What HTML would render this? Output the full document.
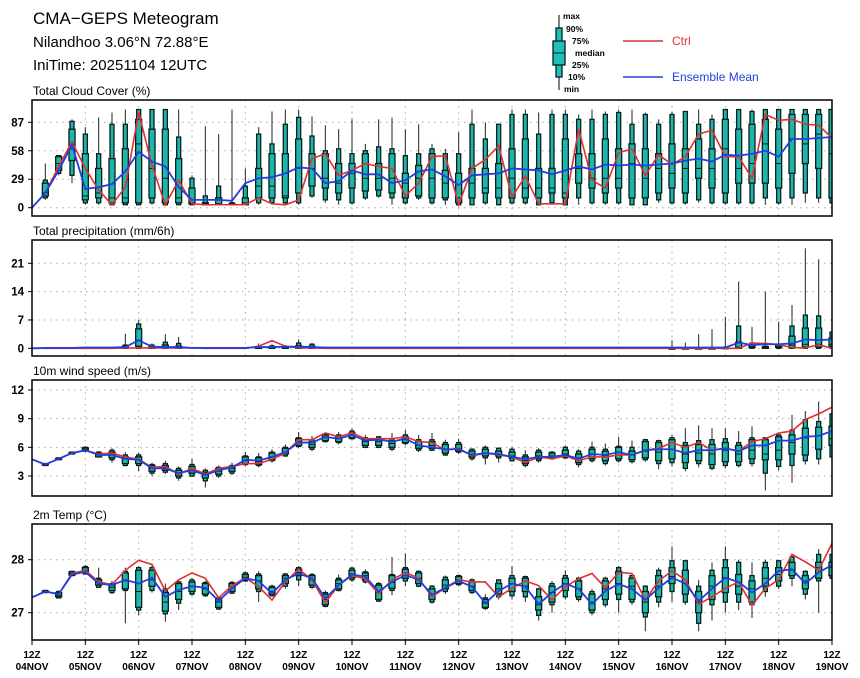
<!DOCTYPE html>
<html><head><meta charset="utf-8"><style>
body{margin:0;background:#fff;}
svg{display:block;font-family:"Liberation Sans",sans-serif;}
</style></head><body>
<svg id="chart" width="860" height="678" viewBox="0 0 860 678" xmlns="http://www.w3.org/2000/svg">
<rect width="860" height="678" fill="#fff"/>
<text x="33" y="24" font-size="17" fill="#000">CMA−GEPS Meteogram</text>
<text x="33" y="47" font-size="15" font-weight="500" fill="#000">Nilandhoo 3.06°N 72.88°E</text>
<text x="33" y="70" font-size="15" font-weight="500" fill="#000">IniTime: 20251104 12UTC</text>
<g>
<line x1="559" y1="15" x2="559" y2="90" stroke="#000"/>
<rect x="556" y="28" width="6" height="49" fill="#20c0b8" stroke="#06201a" stroke-width="1.3"/>
<rect x="553" y="41" width="12" height="24" fill="#20c0b8" stroke="#06201a" stroke-width="1.3"/>
<line x1="553" y1="53" x2="565" y2="53" stroke="#06201a"/>
<g font-size="8.5" font-weight="bold" fill="#000">
<text x="563" y="19">max</text><text x="566" y="32">90%</text><text x="572" y="44">75%</text>
<text x="575" y="56">median</text><text x="572" y="68">25%</text><text x="568" y="80">10%</text><text x="564" y="92">min</text>
</g></g>
<g>
<line x1="623" y1="41" x2="663" y2="41" stroke="#e03030" stroke-width="1.5"/>
<text x="672" y="45" font-size="12" fill="#e03030">Ctrl</text></g>
<g>
<line x1="623" y1="77" x2="663" y2="77" stroke="#2040e0" stroke-width="1.5"/>
<text x="672" y="81" font-size="12" fill="#2040e0">Ensemble Mean</text></g>
</svg>
<script>
const dayLabels=["04NOV","05NOV","06NOV","07NOV","08NOV","09NOV","10NOV","11NOV","12NOV","13NOV","14NOV","15NOV","16NOV","17NOV","18NOV","19NOV"];
const cloudTicks=[0,29,58,87];
const precipTicks=[0,7,14,21];
const windTicks=[3,6,9,12];
const tempTicks=[27,28];

const cloudCtrl=[0,15,42,67,40,18,3,21,97,43,3,28,4,3,3,3,3,10,4,3,8,50,55,33,38,45,42,40,12,25,52,53,3,40,49,63,11,32,4,4,4,80,28,20,56,60,33,54,44,52,75,79,52,52,30,95,89,90,85,84,71];
const cloudMean=[0,15,38,64,19,21,24,37,57,47,42,21,8,8,8,7,25,30,31,35,41,40,25,27,38,34,34,25,28,37,39,32,23,33,34,35,40,39,38,34,38,42,39,44,43,44,43,44,45,48,50,47,54,53,55,58,52,70,70,71,72];
const cloudBoxes=[null,
[8,10,12,15,25,28,45],[33,35,38,45,52,53,53],[25,33,48,60,80,88,90],[3,5,8,12,55,75,82],[3,5,10,15,40,55,92],
[3,3,5,10,50,85,97],[3,3,5,10,60,85,100],[3,3,5,65,90,100,100],[3,5,10,40,80,100,100],[3,3,5,30,80,100,100],
[3,3,5,10,50,72,100],[3,3,4,5,20,30,33],[3,3,3,4,5,12,83],[3,3,3,4,10,22,75],[3,3,3,3,4,5,100],
[3,3,3,5,10,22,40],[3,5,10,22,40,75,82],[3,5,10,22,55,65,98],[3,5,10,12,55,85,100],[3,5,15,40,70,92,100],
[10,12,22,40,55,73,93],[5,8,20,30,55,58,84],[3,8,15,25,45,60,80],[3,5,20,35,45,55,90],[8,10,17,30,55,58,65],
[10,12,18,30,45,62,90],[3,10,15,30,55,60,92],[3,5,10,25,35,53,80],[8,10,12,30,43,55,85],[3,5,10,30,55,60,65],
[3,8,10,25,38,55,60],[3,3,5,10,35,55,77],[3,3,10,25,40,85,100],[3,5,15,20,40,70,87],[3,3,10,20,45,85,85],
[3,5,10,30,60,95,100],[3,5,10,20,70,95,100],[3,3,10,20,40,75,97],[3,5,15,20,40,95,100],[3,3,10,15,70,95,100],
[3,10,25,40,55,90,95],[3,5,20,30,55,90,100],[3,5,15,30,70,95,98],[3,5,20,30,60,97,100],[3,3,10,45,65,85,100],
[3,3,10,30,60,95,97],[5,8,15,40,55,85,90],[3,5,20,35,65,95,98],[3,5,15,40,60,98,98],[5,8,30,40,70,85,100],
[3,5,20,40,60,90,95],[3,5,15,60,90,100,100],[3,5,25,40,80,100,100],[3,5,25,45,85,98,100],[3,10,25,65,90,100,100],
[3,5,20,45,80,100,100],[3,10,35,70,95,100,100],[5,15,45,65,95,100,100],[5,10,40,75,95,100,100],[3,5,10,55,100,100,100]];

const precipCtrl=[0,0,0,0,0,0,0,0.1,0.1,0.1,0.1,0.1,0.1,0,0,0,0,0.5,1.9,0.5,0.1,0.1,0,0,0,0,0,0,0,0,0,0,0,0,0,0,0,0,0,0,0,0,0,0,0,0,0,0,0,0,0,0,0,0,1.3,1.2,0.9,0.2,0.1,0.9,0];
const precipMean=[0,0.1,0.1,0.1,0.2,0.2,0.2,0.3,2.0,0.4,0.3,0.3,0.1,0.1,0.1,0.1,0.1,0.3,0.3,0.4,0.4,0.3,0.2,0.2,0.2,0.2,0.2,0.2,0.2,0.2,0.2,0.2,0.2,0.2,0.2,0.2,0.2,0.2,0.2,0.2,0.2,0.2,0.2,0.2,0.2,0.2,0.2,0.2,0.2,0.2,0.2,0.2,0.2,1.4,0.8,1.0,1.0,1.2,2.2,2.0,2.2];
const precipBoxes={7:[0,0,0,0.1,0.5,0.8,3.6],8:[0,0,0.5,2,4.8,6,7],9:[0,0,0,0.1,0.4,0.8,1.2],10:[0,0,0,0.2,0.8,1.5,3.5],11:[0,0,0,0.1,0.5,1.2,2.8],
17:[0,0,0,0,0.2,0.5,1.2],18:[0,0,0,0,0.3,0.6,1.0],19:[0,0,0,0,0.2,0.5,0.8],20:[0,0,0,0.1,0.6,1.3,2.2],21:[0,0,0,0.1,0.5,1.0,1.3],
48:[0,0,0,0,0,0,2],49:[0,0,0,0,0,0.1,1.4],50:[0,0,0,0,0,0.1,3.5],51:[0,0,0,0,0,0.2,4.7],52:[0,0,0,0,0.1,0.3,7.8],
53:[0,0,0,0.3,1.5,5.5,16.5],54:[0,0,0.2,0.5,1.0,1.3,5.3],55:[0,0,0,0.2,0.4,0.5,14],56:[0,0,0.2,0.5,0.8,1.0,6.6],57:[0,0,0.2,0.8,3,5.5,10.7],
58:[0,0,0.3,1,5,8.2,24.7],59:[0,0,0.3,1,5,8,22],60:[0,0,0.5,1,2.5,4,11.5]};

const windCtrl=[4.75,4.2,4.8,5.4,5.7,5.3,5.4,5.0,4.75,3.9,4.0,3.2,3.8,3.2,3.8,4.0,4.3,4.3,4.75,5.4,6.8,6.8,7.5,7.1,7.5,6.9,6.9,6.9,7.1,6.6,6.5,5.7,5.9,5.1,5.4,5.2,5.0,4.4,5.0,4.8,5.1,4.6,5.0,5.0,5.2,5.2,5.7,5.9,6.5,6.0,6.5,5.7,5.9,5.6,6.6,6.9,7.5,7.7,8.9,9.5,10.2];
const windMean=[4.75,4.2,4.8,5.4,5.7,5.2,5.2,4.8,4.7,3.8,3.8,3.3,3.6,3.1,3.6,3.9,4.7,4.6,5.0,5.5,6.5,6.5,7.1,6.9,7.3,6.7,6.8,6.6,6.9,6.2,6.0,5.8,5.8,5.2,5.4,5.3,5.0,4.75,5.0,5.0,5.2,4.8,5.3,5.2,5.5,5.2,5.7,5.8,5.8,5.4,5.7,5.7,5.9,5.6,6.2,6.2,6.7,6.7,7.1,7.2,7.7];
const windBoxes=[null,
[4.1,4.1,4.15,4.2,4.25,4.3,4.3],[4.7,4.7,4.75,4.8,4.85,4.9,4.9],[5.3,5.3,5.35,5.4,5.45,5.5,5.5],[5.5,5.6,5.65,5.8,5.95,6.0,6.1],[4.9,5.0,5.0,5.2,5.4,5.5,5.6],
[4.4,4.7,4.9,5.2,5.5,5.7,5.9],[4.0,4.1,4.3,4.8,5.0,5.2,5.5],[3.5,4.1,4.3,4.7,5.0,5.2,5.4],[3.0,3.3,3.5,3.8,4.1,4.2,4.4],[3.2,3.4,3.6,3.9,4.1,4.3,4.6],
[2.5,2.8,3.0,3.3,3.6,3.8,4.0],[2.9,3.0,3.3,3.7,4.0,4.2,4.8],[1.8,2.5,2.8,3.1,3.4,3.6,3.8],[2.8,3.0,3.2,3.5,3.8,3.9,4.1],[3.1,3.3,3.5,3.8,4.0,4.1,4.4],
[4.0,4.2,4.3,4.6,5.0,5.1,5.5],[3.9,4.1,4.2,4.5,4.9,5.0,5.4],[4.4,4.6,4.7,5.0,5.4,5.5,5.8],[5.0,5.1,5.3,5.5,5.9,6.0,6.3],[5.9,6.1,6.2,6.6,6.9,7.0,7.6],
[5.6,5.8,6.0,6.3,6.6,6.8,7.2],[6.5,6.6,6.7,7.0,7.3,7.4,7.5],[6.3,6.5,6.6,6.9,7.1,7.3,7.6],[6.8,6.9,7.0,7.3,7.5,7.7,8.0],[5.9,6.0,6.2,6.6,6.9,7.0,7.3],
[5.9,6.0,6.2,6.6,6.9,7.1,7.2],[5.6,5.8,6.0,6.4,6.7,6.9,7.5],[6.2,6.4,6.5,6.8,7.1,7.3,7.8],[5.5,5.7,5.9,6.2,6.6,6.8,7.3],[5.6,5.7,5.9,6.2,6.6,6.8,7.5],
[5.1,5.2,5.4,5.8,6.3,6.5,6.8],[5.3,5.5,5.6,5.9,6.3,6.5,6.9],[4.6,4.8,5.0,5.3,5.6,5.8,5.9],[4.2,4.9,5.1,5.4,5.8,6.0,6.2],[4.4,4.9,5.1,5.3,5.6,5.9,6.0],
[4.5,4.6,4.9,5.1,5.5,5.8,6.0],[3.9,4.1,4.3,4.6,5.0,5.2,5.7],[4.4,4.6,4.8,5.1,5.5,5.7,5.9],[4.7,4.8,4.9,5.1,5.4,5.5,5.6],[4.8,4.9,5.0,5.3,5.7,6.0,6.2],
[3.9,4.2,4.4,4.9,5.3,5.6,5.8],[4.4,4.6,4.8,5.3,5.8,6.0,6.6],[4.1,4.3,4.6,5.1,5.6,5.8,6.4],[4.4,4.6,4.8,5.5,6.0,6.1,7.1],[4.3,4.5,4.7,5.2,5.6,6.0,6.7],
[4.5,4.7,4.9,5.6,6.6,6.8,6.9],[3.7,4.3,4.6,5.5,6.5,6.7,6.8],[4.0,4.4,4.8,5.8,6.8,7.0,7.3],[3.5,3.8,4.4,5.3,6.2,6.5,8.0],[3.9,4.3,4.6,5.4,6.3,6.7,8.3],
[3.6,3.8,4.2,5.3,6.3,6.8,8.0],[3.8,4.1,4.5,5.7,6.5,6.9,8.0],[3.9,4.1,4.5,5.3,6.2,6.5,7.7],[4.0,4.3,4.8,5.7,6.8,7.0,8.2],[1.5,3.3,4.7,5.3,6.8,7.0,7.0],
[3.6,4.0,4.7,5.7,7.1,7.3,7.5],[2.3,4.1,5.3,6.5,7.3,7.8,9.4],[4.2,4.6,5.2,7.0,8.0,8.9,9.8],[4.2,4.8,5.8,7.2,8.1,8.7,10.8],[4.8,5.0,6.2,6.9,8.2,9.5,10.0]];

const tempCtrl=[27.29,27.40,27.35,27.74,27.80,27.58,27.53,27.80,27.99,27.91,27.41,27.62,27.75,27.65,27.28,27.51,27.66,27.49,27.24,27.58,27.82,27.62,27.19,27.52,27.70,27.64,27.36,27.62,27.76,27.65,27.30,27.47,27.62,27.58,27.58,27.30,27.46,27.60,27.51,27.24,27.49,27.64,27.74,27.47,27.76,27.74,27.24,27.60,27.79,27.62,27.16,27.30,27.46,27.58,27.14,27.46,27.62,28.10,27.96,27.80,28.31];
const tempMean=[27.29,27.40,27.35,27.72,27.77,27.55,27.52,27.62,27.55,27.66,27.30,27.43,27.50,27.47,27.22,27.46,27.65,27.60,27.36,27.62,27.74,27.65,27.27,27.52,27.72,27.68,27.40,27.58,27.71,27.62,27.34,27.47,27.60,27.49,27.18,27.41,27.55,27.49,27.16,27.38,27.55,27.45,27.16,27.41,27.54,27.45,27.24,27.47,27.66,27.55,27.22,27.45,27.66,27.58,27.38,27.55,27.79,27.82,27.55,27.76,27.90];
const tempBoxes=[null,
[27.37,27.38,27.39,27.40,27.41,27.42,27.43],[27.27,27.28,27.30,27.33,27.38,27.40,27.42],[27.69,27.70,27.71,27.74,27.77,27.78,27.79],[27.72,27.73,27.76,27.80,27.85,27.87,27.9],[27.47,27.48,27.52,27.57,27.62,27.65,27.85],
[27.35,27.38,27.42,27.48,27.52,27.55,27.6],[26.8,27.42,27.45,27.6,27.75,27.78,27.85],[26.95,27.05,27.1,27.4,27.8,27.85,27.88],[27.38,27.42,27.5,27.62,27.8,27.85,27.9],[26.83,26.98,27.03,27.2,27.38,27.45,27.55],
[27.05,27.18,27.25,27.4,27.55,27.58,27.62],[27.32,27.35,27.4,27.5,27.58,27.62,27.66],[27.3,27.32,27.35,27.45,27.55,27.57,27.6],[27.05,27.07,27.1,27.2,27.26,27.28,27.3],[27.35,27.37,27.4,27.48,27.55,27.57,27.6],
[27.58,27.6,27.62,27.67,27.72,27.75,27.78],[27.2,27.4,27.45,27.6,27.7,27.73,27.78],[27.3,27.32,27.35,27.4,27.48,27.5,27.53],[27.45,27.5,27.55,27.65,27.7,27.73,27.75],[27.5,27.62,27.7,27.76,27.82,27.85,27.88],
[27.45,27.48,27.52,27.62,27.7,27.72,27.75],[27.1,27.12,27.15,27.25,27.35,27.38,27.42],[27.4,27.42,27.45,27.55,27.62,27.65,27.72],[27.58,27.62,27.66,27.73,27.8,27.84,27.87],[27.55,27.58,27.62,27.7,27.75,27.77,27.82],
[27.2,27.22,27.25,27.38,27.52,27.55,27.58],[27.33,27.42,27.46,27.57,27.7,27.72,28.05],[27.5,27.6,27.65,27.75,27.82,27.85,28.12],[27.48,27.5,27.55,27.65,27.75,27.78,27.8],[27.17,27.2,27.25,27.35,27.45,27.5,27.52],
[27.35,27.4,27.45,27.52,27.62,27.67,27.7],[27.5,27.53,27.55,27.62,27.68,27.7,27.72],[27.35,27.38,27.42,27.5,27.58,27.62,27.65],[27.05,27.08,27.1,27.18,27.25,27.28,27.35],[27.25,27.3,27.35,27.45,27.55,27.62,27.63],
[27.25,27.32,27.4,27.55,27.65,27.7,27.88],[27.2,27.3,27.4,27.5,27.65,27.68,27.7],[26.85,26.95,27.05,27.15,27.3,27.45,27.47],[27.0,27.15,27.2,27.38,27.5,27.55,27.6],[27.25,27.3,27.42,27.55,27.65,27.7,27.8],
[27.2,27.25,27.3,27.45,27.6,27.65,27.68],[26.95,27.0,27.05,27.2,27.35,27.4,27.45],[27.1,27.15,27.25,27.45,27.6,27.65,27.68],[27.0,27.25,27.35,27.55,27.78,27.85,27.88],[27.15,27.2,27.25,27.5,27.65,27.7,27.75],
[26.65,26.92,27.0,27.2,27.4,27.5,27.52],[27.1,27.2,27.3,27.5,27.7,27.8,27.85],[27.2,27.4,27.55,27.68,27.85,27.98,28.25],[27.15,27.2,27.35,27.55,27.8,27.98,28.0],[26.65,26.8,27.0,27.2,27.4,27.5,27.62],
[26.85,27.15,27.25,27.5,27.7,27.8,27.95],[27.0,27.2,27.38,27.66,27.85,28.0,28.25],[27.05,27.2,27.35,27.5,27.72,27.95,28.0],[26.9,27.15,27.2,27.45,27.6,27.7,27.95],[27.3,27.4,27.5,27.65,27.85,27.95,28.0],
[27.45,27.5,27.6,27.72,27.85,27.98,28.0],[27.5,27.65,27.7,27.8,27.95,28.05,28.1],[27.25,27.35,27.45,27.6,27.7,27.78,27.8],[27.0,27.6,27.65,27.85,27.95,28.1,28.2],[27.6,27.65,27.7,27.85,27.95,28.1,28.3]];

const NS="http://www.w3.org/2000/svg";
const svg=document.getElementById("chart");
const X0=32,X1=832,NSTEP=60;
function xAt(i){return X0+(X1-X0)*i/NSTEP;}
function mk(tag,attrs,parent){const e=document.createElementNS(NS,tag);for(const k in attrs)e.setAttribute(k,attrs[k]);(parent||svg).appendChild(e);return e;}

function panel(name,title,top,bot,yv,ticks,boxes,ctrl,mean){
  const g=mk("g",{});
  
  
  const t=mk("text",{x:33,y:top-5,"font-size":12,fill:"#000"},g);t.textContent=title;
  
  
  for(let d=1;d<15;d++){const gl=mk("line",{x1:xAt(d*4),x2:xAt(d*4),y1:top,y2:bot,stroke:"#aaa","stroke-dasharray":"1.5,4.5"},g);
    
    }
  ticks.forEach(v=>{const y=yv(v);
    const gl=mk("line",{x1:X0,x2:X1,y1:y,y2:y,stroke:"#aaa","stroke-dasharray":"1.5,4.5"},g);
    
    
    mk("line",{x1:X0-4,x2:X0,y1:y,y2:y,stroke:"#000"},g);
    const tl=mk("text",{x:24,y:y+4,"font-size":11.5,"font-weight":"bold","text-anchor":"end",fill:"#000"},g);tl.textContent=v;
    
    });
  const clipId="clip-"+name;
  const cp=mk("clipPath",{id:clipId},g);mk("rect",{x:X0,y:top,width:X1-X0,height:bot-top},cp);
  const inner=mk("g",{"clip-path":"url(#"+clipId+")"},g);
  for(let i=1;i<=NSTEP;i++){const b=boxes[i];if(!b)continue;
    if(b[6]<=0)continue;
    const x=xAt(i);
    const bg=mk("g",{},inner);
    
    
    mk("line",{x1:x,x2:x,y1:yv(b[0]),y2:yv(b[6]),stroke:"#222","stroke-width":1},bg);
    const h1=Math.max(yv(b[1])-yv(b[5]),0.8);
    mk("rect",{x:x-2,y:yv(b[5]),width:4,height:h1,fill:"#1fb5ad",stroke:"#06201a","stroke-width":1.3},bg);
    const h2=Math.max(yv(b[2])-yv(b[4]),0.8);
    mk("rect",{x:x-3,y:yv(b[4]),width:6,height:h2,fill:"#1fb5ad",stroke:"#06201a","stroke-width":1.3},bg);
    mk("line",{x1:x-3,x2:x+3,y1:yv(b[3]),y2:yv(b[3]),stroke:"#06201a"},bg);}
  const cl=mk("polyline",{points:ctrl.map((v,i)=>xAt(i)+","+yv(v)).join(" "),fill:"none",stroke:"#e03030","stroke-width":1.6},inner);
  
  
  const ml=mk("polyline",{points:mean.map((v,i)=>xAt(i)+","+yv(v)).join(" "),fill:"none",stroke:"#1f3fe0","stroke-width":1.8},inner);
  
  
  const fr=mk("rect",{x:X0,y:top,width:X1-X0,height:bot-top,fill:"none",stroke:"#000","stroke-width":1.5},g);
  
  
}
panel("cloud","Total Cloud Cover (%)",100,216,v=>207.7-v*0.9816,cloudTicks,cloudBoxes,cloudCtrl,cloudMean);
const pBoxes=[];for(let i=0;i<=NSTEP;i++)pBoxes.push(precipBoxes[i]||null);
panel("precip","Total precipitation (mm/6h)",240,356,v=>348.3-v*4.048,precipTicks,pBoxes,precipCtrl,precipMean);
panel("wind","10m wind speed (m/s)",380,496,v=>476-(v-3)*9.556,windTicks,windBoxes,windCtrl,windMean);
panel("temp","2m Temp (°C)",524,640,v=>612.7-(v-27)*53,tempTicks,tempBoxes,tempCtrl,tempMean);

dayLabels.forEach((d,k)=>{const x=xAt(k*4);
  mk("line",{x1:x,x2:x,y1:640,y2:645,stroke:"#000"});
  const a=mk("text",{x:x,y:658,"font-size":10,"font-weight":"bold","text-anchor":"middle",fill:"#000"});a.textContent="12Z";
  
  
  const b=mk("text",{x:x,y:670,"font-size":10,"font-weight":"bold","text-anchor":"middle",fill:"#000"});b.textContent=d;
  
  });
</script>
</body></html>
